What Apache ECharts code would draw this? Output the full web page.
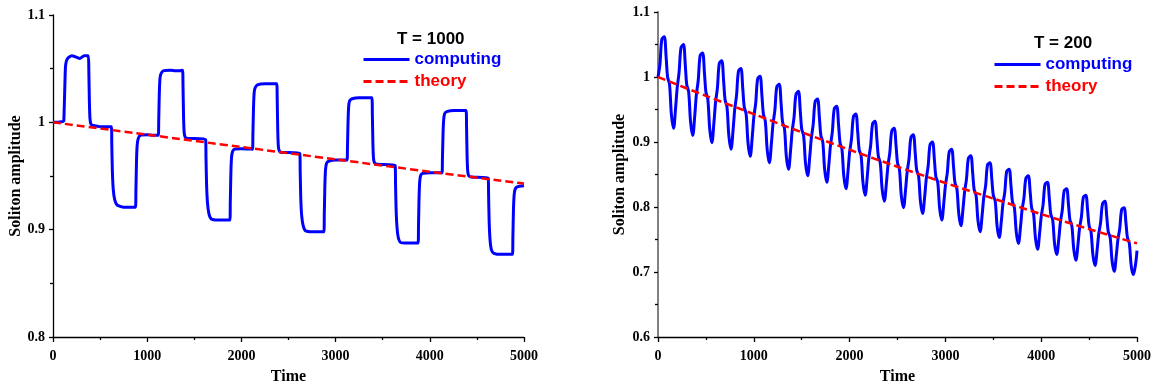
<!DOCTYPE html>
<html>
<head>
<meta charset="utf-8">
<script src="https://cdn.jsdelivr.net/npm/echarts@6/dist/echarts.min.js"></script>
<style>html,body{margin:0;padding:0;background:#fff}#c{width:1155px;height:385px}</style>
</head>
<body>
<div id="c"></div>
<script>
const xTicks = [0, 1000, 2000, 3000, 4000, 5000];
const leftYTicks = [0.8, 0.9, 1, 1.1];
const rightYTicks = [0.6, 0.7, 0.8, 0.9, 1, 1.1];
const leftTitle = 'T = 1000';
const rightTitle = 'T = 200';
const seriesNames = ['computing', 'theory'];
const xName = 'Time';
const yName = 'Soliton amplitude';

const leftTheory = [[0,1.000],[1000,0.9885],[2000,0.977],[3000,0.9655],[4000,0.954],[5000,0.943]];
const rightTheory = [[0,1.000],[500,0.971],[1000,0.943],[1500,0.915],[2000,0.888],[2500,0.862],[3000,0.837],[3500,0.813],[4000,0.789],[4500,0.766],[5000,0.744]];

const leftComputing = [
[0,1.000],[60,1.000],[115,1.001],
[120,1.001],[126,1.035],[132,1.051],[142,1.057],[160,1.060],[200,1.062],[240,1.061],[285,1.0595],[330,1.062],[375,1.062],
[380,1.050],[386,1.020],[393,1.003],[405,0.998],[430,0.997],[500,0.996],[560,0.996],[620,0.996],
[624,0.980],[630,0.955],[640,0.937],[655,0.928],[680,0.923],[750,0.921],[820,0.921],[876,0.921],
[880,0.935],[886,0.962],[893,0.978],[905,0.985],[930,0.988],[1000,0.9885],[1060,0.988],[1118,0.988],
[1122,1.000],[1128,1.025],[1135,1.040],[1145,1.045],[1170,1.048],[1250,1.0485],[1300,1.048],[1375,1.0485],
[1380,1.035],[1386,1.005],[1393,0.990],[1405,0.986],[1430,0.985],[1500,0.985],[1620,0.984],
[1624,0.968],[1630,0.943],[1640,0.925],[1655,0.915],[1680,0.910],[1750,0.909],[1878,0.909],
[1882,0.925],[1888,0.952],[1895,0.967],[1907,0.973],[1930,0.975],[2000,0.9755],[2118,0.975],
[2122,0.988],[2128,1.012],[2135,1.027],[2145,1.032],[2170,1.035],[2250,1.036],[2375,1.036],
[2380,1.022],[2386,0.992],[2393,0.977],[2405,0.973],[2430,0.972],[2620,0.971],
[2624,0.955],[2630,0.930],[2640,0.913],[2655,0.904],[2680,0.899],[2750,0.898],[2876,0.898],
[2880,0.914],[2886,0.941],[2893,0.956],[2905,0.962],[2930,0.964],[3000,0.965],[3122,0.965],
[3126,0.977],[3132,1.000],[3139,1.015],[3149,1.020],[3175,1.022],[3250,1.023],[3385,1.023],
[3390,1.009],[3396,0.980],[3403,0.966],[3415,0.962],[3440,0.961],[3632,0.960],
[3636,0.944],[3642,0.920],[3652,0.902],[3667,0.892],[3690,0.888],[3760,0.8875],[3876,0.8875],
[3880,0.903],[3886,0.930],[3893,0.945],[3905,0.951],[3930,0.9525],[4000,0.953],[4130,0.953],
[4134,0.965],[4140,0.988],[4147,1.002],[4157,1.008],[4180,1.010],[4260,1.011],[4385,1.011],
[4390,0.997],[4396,0.968],[4403,0.954],[4415,0.950],[4440,0.949],[4620,0.948],
[4624,0.933],[4630,0.908],[4640,0.890],[4655,0.881],[4680,0.878],[4760,0.877],[4878,0.877],
[4882,0.893],[4888,0.918],[4895,0.932],[4907,0.938],[4930,0.940],[5000,0.941]
];

const rightComputing = [
[0,1.000],[20,1.019],[40,1.058],[65,1.062],[85,1.030],[100,1.000],[120,0.989],[140,0.942],[162,0.921],[185,0.955],
[200,0.983],[220,1.007],[240,1.045],[265,1.050],[285,1.018],[300,0.988],[320,0.977],[340,0.931],[362,0.910],[385,0.943],
[400,0.972],[420,0.995],[440,1.033],[465,1.037],[485,1.006],[500,0.977],[520,0.966],[540,0.920],[562,0.899],[585,0.932],
[600,0.960],[620,0.983],[640,1.021],[665,1.025],[685,0.994],[700,0.965],[720,0.954],[740,0.909],[762,0.889],[785,0.921],
[800,0.949],[820,0.972],[840,1.009],[865,1.013],[885,0.982],[900,0.954],[920,0.943],[940,0.898],[962,0.878],[985,0.910],
[1000,0.938],[1020,0.960],[1040,0.997],[1065,1.001],[1085,0.971],[1100,0.943],[1120,0.932],[1140,0.888],[1162,0.868],[1185,0.900],
[1200,0.927],[1220,0.949],[1240,0.985],[1265,0.989],[1285,0.959],[1300,0.931],[1320,0.921],[1340,0.877],[1362,0.858],[1385,0.889],
[1400,0.916],[1420,0.938],[1440,0.973],[1465,0.978],[1485,0.948],[1500,0.920],[1520,0.910],[1540,0.867],[1562,0.848],[1585,0.879],
[1600,0.905],[1620,0.927],[1640,0.962],[1665,0.966],[1685,0.937],[1700,0.910],[1720,0.900],[1740,0.857],[1762,0.838],[1785,0.868],
[1800,0.894],[1820,0.916],[1840,0.951],[1865,0.955],[1885,0.926],[1900,0.899],[1920,0.889],[1940,0.847],[1962,0.828],[1985,0.858],
[2000,0.884],[2020,0.905],[2040,0.939],[2065,0.943],[2085,0.915],[2100,0.888],[2120,0.879],[2140,0.837],[2162,0.818],[2185,0.848],
[2200,0.874],[2220,0.895],[2240,0.928],[2265,0.932],[2285,0.904],[2300,0.878],[2320,0.868],[2340,0.827],[2362,0.809],[2385,0.838],
[2400,0.863],[2420,0.884],[2440,0.917],[2465,0.921],[2485,0.894],[2500,0.868],[2520,0.858],[2540,0.817],[2562,0.799],[2585,0.828],
[2600,0.853],[2620,0.874],[2640,0.907],[2665,0.911],[2685,0.883],[2700,0.857],[2720,0.848],[2740,0.808],[2762,0.790],[2785,0.818],
[2800,0.843],[2820,0.863],[2840,0.896],[2865,0.900],[2885,0.873],[2900,0.847],[2920,0.838],[2940,0.798],[2962,0.780],[2985,0.809],
[3000,0.833],[3020,0.853],[3040,0.885],[3065,0.889],[3085,0.862],[3100,0.837],[3120,0.828],[3140,0.789],[3162,0.771],[3185,0.799],
[3200,0.823],[3220,0.843],[3240,0.875],[3265,0.879],[3285,0.852],[3300,0.827],[3320,0.818],[3340,0.779],[3362,0.762],[3385,0.790],
[3400,0.814],[3420,0.833],[3440,0.865],[3465,0.868],[3485,0.842],[3500,0.818],[3520,0.809],[3540,0.770],[3562,0.753],[3585,0.780],
[3600,0.804],[3620,0.823],[3640,0.855],[3665,0.858],[3685,0.832],[3700,0.808],[3720,0.799],[3740,0.761],[3762,0.744],[3785,0.771],
[3800,0.795],[3820,0.814],[3840,0.844],[3865,0.848],[3885,0.823],[3900,0.799],[3920,0.790],[3940,0.752],[3962,0.735],[3985,0.762],
[4000,0.785],[4020,0.804],[4040,0.835],[4065,0.838],[4085,0.813],[4100,0.789],[4120,0.780],[4140,0.743],[4162,0.727],[4185,0.753],
[4200,0.776],[4220,0.795],[4240,0.825],[4265,0.828],[4285,0.803],[4300,0.780],[4320,0.771],[4340,0.735],[4362,0.718],[4385,0.744],
[4400,0.767],[4420,0.785],[4440,0.815],[4465,0.818],[4485,0.794],[4500,0.771],[4520,0.762],[4540,0.726],[4562,0.710],[4585,0.736],
[4600,0.758],[4620,0.776],[4640,0.805],[4665,0.809],[4685,0.784],[4700,0.762],[4720,0.753],[4740,0.717],[4762,0.701],[4785,0.727],
[4800,0.749],[4820,0.767],[4840,0.796],[4865,0.799],[4885,0.775],[4900,0.753],[4920,0.744],[4940,0.709],[4962,0.696],[4985,0.712],
[5000,0.733]
];

const serif = '"Liberation Serif", "Times New Roman", serif';
const sans = '"Liberation Sans", Arial, sans-serif';
const BLUE = '#0000ff', RED = '#ff0000';

function fmtY(v) { return String(Math.round(v * 10) / 10); }
function fmtX(v) { return String(Math.round(v)); }

function xAxis(gi) {
  return {
    type: 'value', gridIndex: gi, min: xTicks[0], max: xTicks[xTicks.length - 1], interval: 1000,
    name: xName, nameLocation: 'middle', nameGap: 32,
    nameTextStyle: { fontFamily: serif, fontWeight: 'bold', fontSize: 16, color: '#000' },
    axisLine: { lineStyle: { color: '#000', width: 1.3 } },
    axisTick: { show: true, length: 5, lineStyle: { color: '#000', width: 1.3 } },
    minorTick: { show: true, splitNumber: 2, length: 3, lineStyle: { color: '#000', width: 1.3 } },
    axisLabel: { fontFamily: serif, fontWeight: 'bold', fontSize: 14, color: '#000', margin: 12, formatter: fmtX },
    splitLine: { show: false }
  };
}
function yAxis(gi, ticks, lineColor, lineWidth, gap) {
  return {
    type: 'value', gridIndex: gi, min: ticks[0], max: ticks[ticks.length - 1], interval: 0.1,
    name: yName, nameLocation: 'middle', nameGap: gap, nameRotate: 90,
    nameTextStyle: { fontFamily: serif, fontWeight: 'bold', fontSize: 16, color: '#000' },
    axisLine: { show: true, onZero: false, lineStyle: { color: lineColor, width: lineWidth } },
    axisTick: { show: true, length: 4, lineStyle: { color: '#000', width: 1.3 } },
    minorTick: { show: true, splitNumber: 2, length: 3, lineStyle: { color: '#000', width: 1.3 } },
    axisLabel: { fontFamily: serif, fontWeight: 'bold', fontSize: 14, color: '#000', margin: 8, formatter: fmtY },
    splitLine: { show: false }
  };
}
function legend(left, top, w) {
  return {
    orient: 'vertical', left: left, top: top, padding: 0, itemWidth: w, itemHeight: 14, itemGap: 5,
    selectedMode: false,
    itemStyle: { opacity: 0 },
    lineStyle: { width: 3 },
    textStyle: { fontFamily: sans, fontWeight: 'bold', fontSize: 17 },
    data: [
      { name: seriesNames[0], textStyle: { color: BLUE } },
      { name: seriesNames[1], textStyle: { color: RED } }
    ]
  };
}

const chart = echarts.init(document.getElementById('c'));
chart.setOption({
  animation: false,
  backgroundColor: '#fff',
  title: [
    { text: leftTitle, left: 397, top: 31, padding: 0, textStyle: { fontFamily: sans, fontWeight: 'bold', fontSize: 17, color: '#000' } },
    { text: rightTitle, left: 1034, top: 35, padding: 0, textStyle: { fontFamily: sans, fontWeight: 'bold', fontSize: 17, color: '#000' } }
  ],
  legend: [legend(362, 51, 46), legend(993, 56, 46)],
  grid: [
    { left: 53, right: 631, top: 15, bottom: 48, containLabel: false, outerBoundsMode: 'none' },
    { left: 658, right: 18, top: 12, bottom: 48, containLabel: false, outerBoundsMode: 'none' }
  ],
  xAxis: [xAxis(0), xAxis(1)],
  yAxis: [yAxis(0, leftYTicks, '#000', 1.3, 24), yAxis(1, rightYTicks, '#808080', 2, 30)],
  series: [
    { name: seriesNames[0], type: 'line', xAxisIndex: 0, yAxisIndex: 0, data: leftComputing, symbol: 'none', smooth: 0.2,
      lineStyle: { color: BLUE, width: 3 }, itemStyle: { color: BLUE }, z: 2 },
    { name: seriesNames[1], type: 'line', xAxisIndex: 0, yAxisIndex: 0, data: leftTheory, symbol: 'none', smooth: 0.3,
      lineStyle: { color: RED, width: 2.5, type: [8, 4] }, itemStyle: { color: RED }, z: 3 },
    { name: seriesNames[0], type: 'line', xAxisIndex: 1, yAxisIndex: 1, data: rightComputing, symbol: 'none', smooth: 0.35,
      lineStyle: { color: BLUE, width: 3 }, itemStyle: { color: BLUE }, z: 2 },
    { name: seriesNames[1], type: 'line', xAxisIndex: 1, yAxisIndex: 1, data: rightTheory, symbol: 'none', smooth: 0.3,
      lineStyle: { color: RED, width: 2.5, type: [8, 4] }, itemStyle: { color: RED }, z: 3 }
  ]
});
</script>
</body>
</html>
